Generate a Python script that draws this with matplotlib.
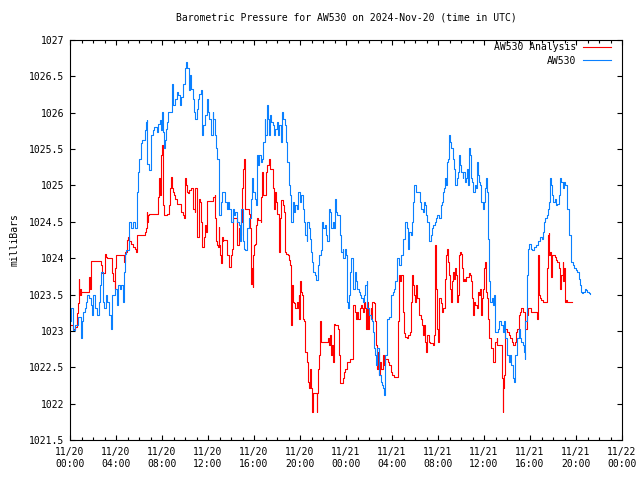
import matplotlib
matplotlib.use("Agg")
import matplotlib.pyplot as plt
from matplotlib.ticker import MultipleLocator, FixedLocator

# ---------------- data (hours since 2024-11-20 00:00 UTC, millibars) ----------------
blue_t = [0.00, 0.06, 0.12, 0.23, 0.46, 0.70, 0.93, 1.04, 1.16, 1.28, 1.39, 1.51, 1.68, 1.80, 1.91, 2.03,
          2.14, 2.32, 2.49, 2.61, 2.72, 2.84, 2.96, 3.13, 3.25, 3.42, 3.54, 3.65, 3.88, 4.06, 4.17, 4.35,
          4.46, 4.58, 4.70, 4.75, 4.87, 5.16, 5.33, 5.51, 5.62, 5.80, 5.86, 5.91, 6.03, 6.14, 6.26, 6.49,
          6.61, 6.67, 6.72, 6.90, 7.01, 7.07, 7.19, 7.30, 7.54, 7.65, 7.83, 7.91, 8.00, 8.12, 8.18, 8.29,
          8.35, 8.47, 8.53, 8.87, 8.99, 9.11, 9.28, 9.40, 9.57, 9.69, 9.86, 9.97, 10.09, 10.21, 10.32, 10.44,
          10.55, 10.67, 10.79, 10.90, 11.02, 11.13, 11.25, 11.37, 11.48, 11.60, 11.71, 11.89, 12.00, 12.12,
          12.24, 12.29, 12.41, 12.47, 12.58, 12.70, 12.82, 12.93, 12.99, 13.11, 13.22, 13.51, 13.63, 13.74,
          13.86, 13.98, 14.15, 14.27, 14.38, 14.50, 14.67, 14.79, 14.90, 15.02, 15.13, 15.25, 15.42, 15.54,
          15.71, 15.83, 15.95, 16.06, 16.18, 16.24, 16.35, 16.47, 16.58, 16.70, 16.82, 16.93, 16.99, 17.11,
          17.22, 17.28, 17.40, 17.51, 17.63, 17.74, 17.86, 17.97, 18.09, 18.21, 18.32, 18.44, 18.55, 18.67,
          18.79, 18.90, 19.02, 19.13, 19.25, 19.37, 19.48, 19.60, 19.71, 19.83, 20.00, 20.12, 20.24, 20.35,
          20.47, 20.59, 20.64, 20.76, 20.84, 20.93, 21.05, 21.16, 21.28, 21.40, 21.57, 21.69, 21.80, 21.92,
          22.03, 22.15, 22.27, 22.38, 22.50, 22.61, 22.73, 22.85, 22.96, 23.02, 23.13, 23.25, 23.48, 23.60,
          23.71, 23.77, 23.89, 24.00, 24.06, 24.12, 24.18, 24.29, 24.35, 24.47, 24.58, 24.64, 24.76, 24.87,
          24.99, 25.11, 25.22, 25.34, 25.45, 25.57, 25.69, 25.80, 25.86, 25.98, 26.03, 26.15, 26.27, 26.32,
          26.44, 26.50, 26.61, 26.73, 26.84, 26.90, 27.02, 27.13, 27.25, 27.31, 27.37, 27.42, 27.54, 27.60,
          27.77, 27.89, 27.95, 28.06, 28.18, 28.29, 28.41, 28.47, 28.58, 28.82, 28.93, 28.99, 29.11, 29.16,
          29.34, 29.40, 29.51, 29.63, 29.74, 29.80, 29.92, 30.09, 30.44, 30.56, 30.67, 30.79, 30.90, 30.96,
          31.08, 31.19, 31.25, 31.37, 31.48, 31.60, 31.71, 31.83, 31.95, 32.12, 32.24, 32.35, 32.41, 32.53,
          32.58, 32.70, 32.76, 32.87, 32.93, 33.05, 33.16, 33.28, 33.40, 33.51, 33.63, 33.74, 33.80, 33.92,
          34.03, 34.15, 34.21, 34.32, 34.44, 34.55, 34.61, 34.67, 34.79, 34.84, 34.96, 35.08, 35.19, 35.31,
          35.37, 35.48, 35.54, 35.66, 35.77, 35.89, 36.01, 36.06, 36.18, 36.29, 36.38, 36.47, 36.53, 36.70,
          36.76, 36.87, 36.93, 36.99, 37.22, 37.34, 37.51, 37.63, 37.74, 37.86, 37.98, 38.15, 38.27, 38.38,
          38.50, 38.61, 38.73, 38.85, 38.90, 39.02, 39.14, 39.25, 39.37, 39.48, 39.54, 39.60, 39.71, 39.77,
          39.83, 39.95, 40.12, 40.18, 40.35, 40.53, 40.70, 40.87, 41.05, 41.16, 41.22, 41.34, 41.45, 41.57,
          41.69, 41.74, 41.86, 41.92, 42.03, 42.15, 42.26, 42.38, 42.50, 42.61, 42.73, 42.84, 42.96, 43.08,
          43.19, 43.25, 43.37, 43.42, 43.54, 43.60, 43.71, 43.83, 44.00, 44.12, 44.24, 44.29, 44.35, 44.41,
          44.53, 44.64, 44.76, 44.87, 44.99, 45.10, 45.22]
blue_p = [1023.13, 1023.13, 1023.31, 1023.01, 1023.08, 1023.19, 1022.90, 1023.13, 1023.26, 1023.31, 1023.40,
          1023.49, 1023.45, 1023.35, 1023.22, 1023.49, 1023.31, 1023.22, 1023.40, 1023.63, 1023.81, 1023.40,
          1023.31, 1023.49, 1023.40, 1023.22, 1023.03, 1023.49, 1023.58, 1023.35, 1023.63, 1023.58, 1023.63,
          1023.40, 1023.81, 1024.06, 1024.11, 1024.50, 1024.41, 1024.50, 1024.41, 1024.55, 1024.91, 1025.19,
          1025.37, 1025.58, 1025.62, 1025.76, 1025.87, 1025.90, 1025.30, 1025.21, 1025.58, 1025.69, 1025.76,
          1025.81, 1025.74, 1025.85, 1025.90, 1025.76, 1026.01, 1025.74, 1025.51, 1025.62, 1025.78, 1025.87,
          1026.01, 1026.40, 1026.10, 1026.19, 1026.29, 1026.24, 1026.10, 1026.22, 1026.40, 1026.61, 1026.70,
          1026.61, 1026.31, 1026.52, 1026.33, 1026.19, 1026.01, 1025.92, 1026.05, 1026.19, 1026.26, 1026.31,
          1025.69, 1025.83, 1025.97, 1026.19, 1026.01, 1025.92, 1025.83, 1025.69, 1026.01, 1025.92, 1025.69,
          1025.51, 1025.37, 1024.96, 1024.59, 1024.77, 1024.91, 1024.77, 1024.68, 1024.77, 1024.68, 1024.50,
          1024.68, 1024.59, 1024.64, 1024.50, 1024.45, 1024.23, 1024.68, 1024.23, 1024.13, 1024.11, 1024.41,
          1024.55, 1024.82, 1025.10, 1024.91, 1024.82, 1024.73, 1025.42, 1025.28, 1025.42, 1025.32, 1025.37,
          1025.60, 1025.92, 1025.69, 1026.10, 1025.92, 1025.69, 1025.97, 1025.87, 1025.83, 1025.69, 1025.78,
          1025.87, 1025.69, 1025.83, 1025.60, 1026.01, 1025.92, 1025.83, 1025.60, 1025.32, 1025.00, 1024.87,
          1024.50, 1024.77, 1024.64, 1024.73, 1024.68, 1024.91, 1024.77, 1024.87, 1024.68, 1024.50, 1024.32,
          1024.23, 1024.50, 1024.41, 1024.27, 1024.09, 1023.95, 1023.81, 1023.77, 1023.70, 1023.90, 1024.04,
          1024.11, 1024.50, 1024.41, 1024.45, 1024.32, 1024.23, 1024.68, 1024.64, 1024.41, 1024.50, 1024.41,
          1024.82, 1024.64, 1024.59, 1024.32, 1024.09, 1024.13, 1024.00, 1024.13, 1024.04, 1023.77, 1023.40,
          1023.31, 1023.49, 1023.81, 1024.00, 1023.90, 1023.58, 1023.81, 1023.68, 1023.58, 1023.54, 1023.49,
          1023.45, 1023.40, 1023.49, 1023.63, 1023.68, 1023.31, 1023.26, 1023.22, 1023.17, 1023.13, 1022.99,
          1022.76, 1022.67, 1022.53, 1022.76, 1022.48, 1022.39, 1022.30, 1022.26, 1022.21, 1022.12, 1022.35,
          1022.67, 1023.03, 1023.17, 1023.19, 1023.40, 1023.49, 1023.54, 1023.58, 1023.68, 1023.95, 1024.00,
          1023.90, 1024.04, 1024.13, 1024.27, 1024.41, 1024.50, 1024.41, 1024.13, 1024.36, 1024.32, 1024.50,
          1024.77, 1025.00, 1024.91, 1024.77, 1024.68, 1024.64, 1024.77, 1024.73, 1024.59, 1024.50, 1024.36,
          1024.23, 1024.32, 1024.41, 1024.45, 1024.50, 1024.55, 1024.59, 1024.55, 1024.73, 1024.77, 1024.91,
          1024.96, 1025.10, 1025.00, 1025.32, 1025.37, 1025.69, 1025.60, 1025.51, 1025.37, 1025.23, 1025.00,
          1025.10, 1025.19, 1025.42, 1025.28, 1025.19, 1025.10, 1025.19, 1025.05, 1025.10, 1025.23, 1025.00,
          1025.51, 1025.42, 1025.10, 1025.05, 1024.91, 1025.00, 1024.96, 1025.32, 1025.14, 1025.05, 1025.00,
          1024.77, 1024.68, 1024.77, 1024.96, 1025.10, 1024.91, 1024.27, 1023.68, 1023.40, 1023.45, 1023.35,
          1023.49, 1023.26, 1022.99, 1023.03, 1023.13, 1023.08, 1022.99, 1023.13, 1022.90, 1022.67, 1022.57,
          1022.67, 1022.53, 1022.35, 1022.30, 1022.67, 1022.76, 1022.90, 1023.03, 1022.90, 1022.85, 1022.80,
          1022.71, 1022.62, 1023.13, 1023.58, 1023.77, 1024.13, 1024.20, 1024.13, 1024.11, 1024.16, 1024.18,
          1024.23, 1024.29, 1024.27, 1024.36, 1024.50, 1024.55, 1024.59, 1024.68, 1024.77, 1025.10, 1025.00,
          1024.87, 1024.77, 1024.82, 1024.73, 1024.75, 1024.87, 1025.10, 1025.05, 1024.96, 1025.05, 1025.00,
          1024.91, 1024.68, 1024.50, 1024.32, 1024.23, 1023.95, 1023.90, 1023.86, 1023.84, 1023.81, 1023.79,
          1023.72, 1023.63, 1023.54, 1023.52, 1023.54, 1023.58, 1023.56, 1023.54, 1023.52, 1023.51]

red_t = [0.00, 0.23, 0.41, 0.64, 0.70, 0.75, 0.81, 0.87, 0.93, 0.99, 1.68, 1.74, 1.80, 2.72, 2.78, 3.01,
         3.13, 3.25, 3.65, 3.77, 3.88, 3.94, 4.00, 4.70, 4.75, 4.81, 4.93, 5.04, 5.16, 5.33, 5.51, 5.62,
         5.74, 5.80, 6.49, 6.61, 6.67, 6.72, 6.78, 6.90, 7.65, 7.77, 7.83, 7.88, 7.94, 8.00, 8.06, 8.09,
         8.18, 8.47, 8.58, 8.64, 8.70, 8.76, 8.87, 8.93, 9.05, 9.16, 9.28, 9.69, 9.80, 9.92, 9.97, 10.03,
         10.09, 10.15, 10.27, 10.38, 10.50, 10.67, 10.73, 10.84, 10.90, 11.02, 11.08, 11.19, 11.31, 11.43,
         11.48, 11.66, 11.71, 11.83, 11.89, 11.95, 12.47, 12.58, 12.64, 12.70, 12.76, 12.87, 12.93, 12.99,
         13.05, 13.11, 13.22, 13.28, 13.34, 13.69, 13.80, 14.03, 14.09, 14.15, 14.21, 14.50, 14.56, 14.67,
         14.79, 14.85, 14.96, 15.02, 15.13, 15.19, 15.25, 15.54, 15.66, 15.71, 15.77, 15.83, 15.89, 15.95,
         16.00, 16.12, 16.18, 16.24, 16.35, 16.58, 16.64, 16.70, 16.82, 17.05, 17.16, 17.28, 17.40, 17.63,
         17.69, 17.74, 17.86, 17.92, 18.03, 18.15, 18.21, 18.26, 18.32, 18.50, 18.61, 18.67, 18.73, 18.79,
         18.96, 19.02, 19.13, 19.19, 19.25, 19.31, 19.43, 19.48, 19.60, 19.71, 19.83, 19.89, 19.95, 20.00,
         20.12, 20.18, 20.29, 20.35, 20.47, 20.64, 20.70, 20.82, 20.87, 20.99, 21.05, 21.11, 21.40, 21.45,
         21.51, 21.57, 21.69, 21.74, 21.86, 22.44, 22.56, 22.61, 22.73, 22.79, 22.90, 22.96, 23.08, 23.31,
         23.42, 23.48, 23.71, 23.83, 23.95, 24.06, 24.35, 24.58, 24.64, 24.76, 24.87, 24.93, 25.05, 25.22,
         25.28, 25.40, 25.51, 25.57, 25.69, 25.74, 25.80, 25.92, 26.03, 26.15, 26.21, 26.27, 26.44, 26.55,
         26.61, 26.73, 26.79, 26.84, 26.96, 27.08, 27.19, 27.31, 27.42, 27.66, 27.77, 27.89, 28.00, 28.18,
         28.53, 28.58, 28.70, 28.82, 28.93, 29.05, 29.16, 29.28, 29.40, 29.57, 29.63, 29.74, 29.86, 29.92,
         30.03, 30.09, 30.21, 30.32, 30.38, 30.50, 30.61, 30.73, 30.79, 30.90, 30.96, 31.08, 31.19, 31.31,
         31.60, 31.66, 31.71, 31.83, 31.89, 31.95, 32.00, 32.06, 32.24, 32.35, 32.47, 32.58, 32.64, 32.70,
         32.82, 32.87, 32.99, 33.05, 33.16, 33.22, 33.34, 33.40, 33.51, 33.57, 33.69, 33.74, 33.86, 33.92,
         34.03, 34.09, 34.21, 34.26, 34.38, 34.44, 34.73, 34.79, 34.90, 34.96, 35.08, 35.13, 35.25, 35.37,
         35.48, 35.60, 35.66, 35.77, 35.83, 35.95, 36.01, 36.06, 36.18, 36.29, 36.35, 36.41, 36.47, 36.58,
         36.64, 36.76, 36.82, 36.93, 36.99, 37.11, 37.16, 37.57, 37.63, 37.69, 37.74, 37.80, 37.86, 38.03,
         38.15, 38.27, 38.44, 38.56, 38.67, 38.79, 38.90, 39.02, 39.14, 39.25, 39.43, 39.54, 39.60, 39.71,
         39.83, 40.06, 40.58, 40.70, 40.76, 40.81, 40.87, 40.99, 41.16, 41.51, 41.57, 41.63, 41.69, 41.74,
         41.86, 41.92, 42.15, 42.26, 42.38, 42.50, 42.61, 42.73, 42.84, 42.90, 42.96, 43.02, 43.13, 43.25,
         43.66]
red_p = [1023.08, 1023.03, 1023.06, 1023.24, 1023.38, 1023.72, 1023.49, 1023.58, 1023.49, 1023.54, 1023.74,
         1023.58, 1023.96, 1023.90, 1023.79, 1024.06, 1024.02, 1024.00, 1023.79, 1023.68, 1023.58, 1023.86,
         1024.04, 1023.95, 1024.04, 1024.09, 1024.25, 1024.29, 1024.23, 1024.20, 1024.16, 1024.13, 1024.09,
         1024.32, 1024.36, 1024.41, 1024.64, 1024.50, 1024.59, 1024.61, 1024.84, 1025.10, 1024.87, 1025.23,
         1025.42, 1025.55, 1025.10, 1024.73, 1024.59, 1024.61, 1024.64, 1024.73, 1024.96, 1025.12, 1024.96,
         1024.91, 1024.87, 1024.82, 1024.75, 1024.64, 1024.59, 1024.55, 1024.82, 1025.10, 1025.00, 1024.91,
         1024.89, 1024.94, 1024.96, 1024.82, 1024.68, 1024.64, 1024.96, 1024.55, 1024.29, 1024.82, 1024.77,
         1024.50, 1024.15, 1024.29, 1024.45, 1024.36, 1024.64, 1024.78, 1024.84, 1024.87, 1024.55, 1024.23,
         1024.18, 1024.16, 1024.43, 1024.18, 1024.04, 1023.93, 1024.29, 1024.23, 1024.25, 1024.04, 1023.88,
         1024.04, 1024.13, 1024.41, 1024.55, 1024.50, 1024.18, 1024.41, 1024.32, 1024.50, 1024.96, 1025.23,
         1025.37, 1025.05, 1024.68, 1024.61, 1024.41, 1024.09, 1023.65, 1023.86, 1023.61, 1024.04, 1024.18,
         1024.20, 1024.45, 1024.55, 1024.52, 1024.50, 1024.84, 1025.19, 1024.87, 1025.19, 1025.28, 1025.37,
         1025.23, 1025.14, 1024.96, 1024.68, 1024.91, 1024.77, 1024.61, 1024.36, 1024.09, 1024.55, 1024.80,
         1024.73, 1024.64, 1024.41, 1024.09, 1024.06, 1024.04, 1023.97, 1023.90, 1023.49, 1023.08, 1023.63,
         1023.40, 1023.38, 1023.31, 1023.40, 1023.31, 1023.49, 1023.17, 1023.68, 1023.54, 1023.49, 1023.17,
         1023.13, 1022.71, 1022.57, 1022.30, 1022.21, 1022.48, 1022.21, 1021.89, 1022.14, 1022.14, 1021.89,
         1022.14, 1022.48, 1022.67, 1023.13, 1022.85, 1022.90, 1022.80, 1022.94, 1022.67, 1022.80, 1022.57,
         1023.10, 1023.08, 1023.03, 1022.67, 1022.28, 1022.35, 1022.44, 1022.48, 1022.57, 1022.62, 1022.99,
         1023.35, 1023.26, 1023.17, 1023.26, 1023.17, 1023.31, 1023.35, 1023.31, 1023.26, 1023.40, 1023.31,
         1023.03, 1023.40, 1023.03, 1023.22, 1023.31, 1023.17, 1023.40, 1023.38, 1023.13, 1022.80, 1022.48,
         1022.71, 1022.39, 1022.57, 1022.48, 1022.67, 1022.53, 1022.62, 1022.57, 1022.53, 1022.44, 1022.39,
         1022.37, 1023.13, 1023.77, 1023.68, 1023.77, 1023.26, 1022.97, 1022.92, 1022.90, 1022.94, 1022.99,
         1023.40, 1023.77, 1023.63, 1023.49, 1023.40, 1023.63, 1023.45, 1023.40, 1023.22, 1023.17, 1023.08,
         1022.94, 1023.08, 1022.85, 1022.71, 1022.94, 1022.85, 1022.83, 1022.80, 1022.94, 1024.18, 1023.58,
         1023.13, 1023.03, 1022.85, 1023.45, 1023.38, 1023.26, 1023.31, 1023.45, 1023.72, 1024.04, 1024.13,
         1023.95, 1023.77, 1023.58, 1023.40, 1023.68, 1023.81, 1023.72, 1023.86, 1023.77, 1023.40, 1023.49,
         1024.04, 1024.09, 1024.06, 1023.86, 1023.68, 1023.72, 1023.68, 1023.74, 1023.79, 1023.77, 1023.68,
         1023.45, 1023.22, 1023.40, 1023.35, 1023.31, 1023.54, 1023.49, 1023.58, 1023.22, 1023.45, 1023.58,
         1023.86, 1023.95, 1023.54, 1023.45, 1023.17, 1022.94, 1022.90, 1022.80, 1022.76, 1022.67, 1022.57,
         1022.67, 1022.85, 1022.90, 1022.80, 1022.35, 1021.89, 1022.21, 1022.39, 1022.80, 1023.03, 1022.99,
         1022.94, 1022.90, 1022.85, 1022.80, 1022.85, 1022.99, 1023.03, 1023.22, 1023.26, 1023.31, 1023.26,
         1023.13, 1023.03, 1023.22, 1023.31, 1023.26, 1023.17, 1024.04, 1023.74, 1023.49, 1023.45, 1023.42,
         1023.40, 1023.86, 1024.32, 1024.34, 1024.04, 1024.09, 1023.74, 1024.04, 1024.02, 1023.97, 1023.95,
         1023.86, 1023.58, 1023.77, 1023.95, 1023.68, 1023.86, 1023.40, 1023.42, 1023.40, 1023.40]

x_tick_hours = [0, 4, 8, 12, 16, 20, 24, 28, 32, 36, 40, 44, 48]
x_tick_labels = ["11/20\n00:00", "11/20\n04:00", "11/20\n08:00", "11/20\n12:00", "11/20\n16:00",
                 "11/20\n20:00", "11/21\n00:00", "11/21\n04:00", "11/21\n08:00", "11/21\n12:00",
                 "11/21\n16:00", "11/21\n20:00", "11/22\n00:00"]
y_ticks = [1021.5, 1022, 1022.5, 1023, 1023.5, 1024, 1024.5, 1025, 1025.5, 1026, 1026.5, 1027]
y_tick_labels = ["1021.5", "1022", "1022.5", "1023", "1023.5", "1024", "1024.5", "1025", "1025.5",
                 "1026", "1026.5", "1027"]

title = "Barometric Pressure for AW530 on 2024-Nov-20 (time in UTC)"
red_label = "AW530 Analysis"
blue_label = "AW530"
y_label = "milliBars"

# ---------------- figure ----------------
plt.rcParams['font.family'] = ['DejaVu Sans Mono']
FS = 7

fig = plt.figure(figsize=(6.4, 4.8), dpi=100)
ax = fig.add_axes([70 / 640, 40 / 480, 552 / 640, 400 / 480])

ax.plot(red_t, red_p, color='#ff0000', lw=0.8, drawstyle='steps-post', label=red_label)
ax.plot(blue_t, blue_p, color='#0a80ff', lw=0.8, drawstyle='steps-post', label=blue_label)

ax.set_xlim(0, 48)
ax.set_ylim(1021.5, 1027)
ax.xaxis.set_major_locator(FixedLocator(x_tick_hours))
ax.set_xticklabels(x_tick_labels, fontsize=FS)
ax.xaxis.set_minor_locator(MultipleLocator(1))
ax.set_yticks(y_ticks)
ax.set_yticklabels(y_tick_labels, fontsize=FS)

ax.tick_params(which='both', direction='in', top=True, right=True, width=0.8, colors='black')
ax.tick_params(which='major', length=3.6)
ax.tick_params(which='minor', length=2.0)
ax.tick_params(axis='y', pad=4.3)
ax.tick_params(axis='x', pad=5.0)
for s in ax.spines.values():
    s.set_linewidth(0.8)

fig.text(346 / 640, 1 - 18 / 480, title, ha='center', va='center', fontsize=FS)
fig.text(15 / 640, 0.5, y_label, rotation=90, ha='center', va='center', fontsize=FS)

leg = ax.legend(loc='upper right', bbox_to_anchor=(611 / 640, 1 - 42 / 480),
                bbox_transform=fig.transFigure, frameon=False, markerfirst=False,
                fontsize=FS, handlelength=2.9, handletextpad=0.7, labelspacing=0.4,
                borderpad=0, borderaxespad=0)

fig.savefig("out.png", dpi=100)
